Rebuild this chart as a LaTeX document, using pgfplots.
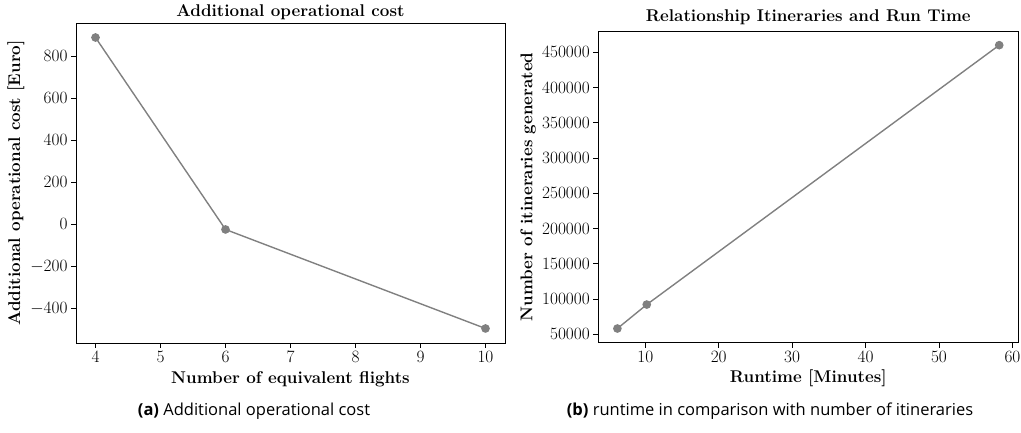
\documentclass[border=0pt]{standalone}
\usepackage{pgfplots}
\pgfplotsset{compat=1.18}
\usepackage{fontspec}
\newfontfamily\capfont{Open Sans}

\definecolor{seriesgray}{RGB}{128,128,128}

\pgfplotsset{
  panel/.style={
    scale only axis,
    anchor=south west,
    axis line style={line width=0.9pt},
    tick align=outside,
    major tick length=5pt,
    tick style={black, line width=0.8pt},
    xtick pos=bottom, ytick pos=left,
    tick label style={font=\fontsize{17}{17}\selectfont},
    label style={font=\fontsize{17}{19}\selectfont\bfseries},
    % cancel the default 6pt title lift; positions are set per axis
    title style={font=\fontsize{17}{19}\selectfont\bfseries, anchor=base, yshift=-6pt},
    /pgf/number format/1000 sep={},
    /pgf/number format/fixed,
    scaled ticks=false,
  },
  series/.style={color=seriesgray, line width=1.4pt, mark=*,
    mark size=3.6pt, mark options={fill=seriesgray, draw=seriesgray}},
}

\begin{document}
\begin{tikzpicture}[x=1pt, y=1pt]
\useasboundingbox (0,0) rectangle (1021,433);

% (a) cost versus number of equivalent flights
\begin{axis}[panel,
  at={(76pt,90pt)}, width=429pt, height=320pt,
  xmin=3.7, xmax=10.3, ymin=-564, ymax=958,
  xtick={4,5,...,10}, ytick={-400,-200,0,200,400,600,800},
  title={Additional operational cost},
  title style={at={(axis description cs:0.5,1.019)}},
  xlabel={Number of equivalent flights},
  xlabel style={at={(axis description cs:0.5,-0.1125)}, anchor=center},
  ylabel={Additional operational cost [Euro]},
  ylabel style={at={(axis description cs:-0.14,0.5)}, anchor=center},
]
\addplot[series] coordinates {(4,889) (6,-24) (10,-495)};
\end{axis}

% (b) itineraries versus runtime
\begin{axis}[panel,
  at={(598.3pt,90.3pt)}, width=420pt, height=311.7pt,
  xmin=3.6, xmax=60.8, ymin=37900, ymax=480100,
  xtick={10,20,...,60},
  ytick={50000,100000,...,450000},
  title={Relationship Itineraries and Run Time},
  title style={at={(axis description cs:0.5,1.029)}},
  xlabel={Runtime [Minutes]},
  xlabel style={at={(axis description cs:0.5,-0.113)}, anchor=center},
  ylabel={Number of itineraries generated},
  ylabel style={at={(axis description cs:-0.167,0.5)}, anchor=center},
]
\addplot[series] coordinates {(6.2,58000) (10.2,92000) (58.2,460000)};
\end{axis}

\node[font=\capfont\fontsize{16.5}{18}\selectfont] at (254,22) {\textbf{(a)} Additional operational cost};
\node[font=\capfont\fontsize{16.5}{18}\selectfont] at (770,22) {\textbf{(b)} runtime in comparison with number of itineraries};
\end{tikzpicture}
\end{document}
